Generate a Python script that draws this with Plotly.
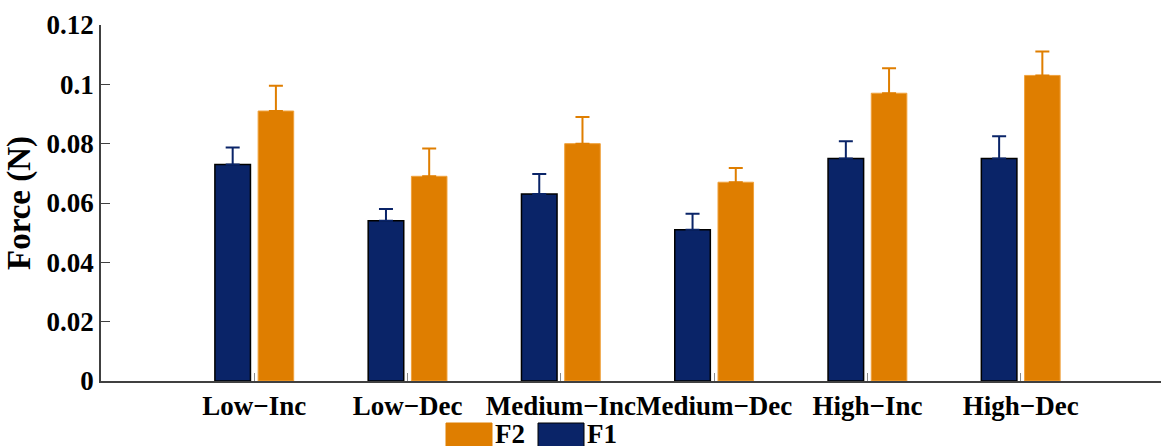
import plotly.graph_objects as go

# Conditions on the horizontal axis
conditions = ["Low\u2212Inc", "Low\u2212Dec", "Medium\u2212Inc", "Medium\u2212Dec", "High\u2212Inc", "High\u2212Dec"]

# Mean forces (N) and their error bars
f1_mean = [0.073, 0.054, 0.063, 0.051, 0.075, 0.075]
f1_err = [0.0057, 0.0040, 0.0068, 0.0054, 0.0058, 0.0075]
f2_mean = [0.091, 0.069, 0.080, 0.067, 0.097, 0.103]
f2_err = [0.0085, 0.0094, 0.0090, 0.0048, 0.0084, 0.0081]

# Y-axis ticks
y_ticks = [0, 0.02, 0.04, 0.06, 0.08, 0.1, 0.12]
y_tick_text = ["0", "0.02", "0.04", "0.06", "0.08", "0.1", "0.12"]

NAVY = "#0a2468"
ORANGE = "#df7e00"
FONT = "Liberation Serif"

fig = go.Figure()
fig.add_trace(go.Bar(
    name="F1", x=conditions, y=f1_mean,
    width=0.232, offset=-0.257,
    marker=dict(color=NAVY, line=dict(color="#000000", width=1.5)),
    error_y=dict(type="data", array=f1_err, symmetric=False, arrayminus=[0] * len(f1_err),
                 color=NAVY, thickness=2, width=7),
    showlegend=False,
))
fig.add_trace(go.Bar(
    name="F2", x=conditions, y=f2_mean,
    width=0.232, offset=0.025,
    marker=dict(color=ORANGE, line=dict(color="#f0a23c", width=1)),
    error_y=dict(type="data", array=f2_err, symmetric=False, arrayminus=[0] * len(f2_err),
                 color=ORANGE, thickness=2, width=7),
    showlegend=False,
))

# Legend drawn below the axis: F2 then F1
legend_items = [("F2", ORANGE, ORANGE), ("F1", NAVY, "#000000")]
x0 = 446
for label, fill, edge in legend_items:
    fig.add_shape(type="rect", xref="paper", yref="paper",
                  x0=(x0 - 101) / 1060, x1=(x0 + 46 - 101) / 1060,
                  y0=(381 - 423) / 356, y1=(381 - 452) / 356,
                  fillcolor=fill, line=dict(color=edge, width=1))
    fig.add_annotation(text=label, xref="paper", yref="paper",
                       x=(x0 + 48 - 101) / 1060, y=(381 - 450) / 356,
                       xanchor="left", yanchor="bottom", showarrow=False, borderpad=0,
                       font=dict(family=FONT, size=27, color="#000000", weight="bold"))
    x0 += 92

fig.update_layout(
    width=1161, height=446,
    margin=dict(l=101, r=0, t=25, b=65, autoexpand=False),
    barmode="overlay",
    plot_bgcolor="#ffffff", paper_bgcolor="#ffffff",
    font=dict(family=FONT, size=27, color="#000000", weight="bold"),
    xaxis=dict(
        range=[-1, 5.915],
        showline=True, linecolor="#404040", linewidth=2,
        ticks="inside", ticklen=8, tickcolor="#8a8a8a", tickwidth=1,
        showgrid=False, zeroline=False, tickangle=0, automargin=False,
        tickfont=dict(family=FONT, size=27, color="#000000", weight="bold"),
    ),
    yaxis=dict(
        range=[0, 0.12],
        tickvals=y_ticks, ticktext=y_tick_text,
        showline=True, linecolor="#404040", linewidth=1.5,
        ticks="inside", ticklen=9, tickcolor="#404040", tickwidth=1,
        showgrid=False, zeroline=False, automargin=False,
        tickfont=dict(family=FONT, size=27, color="#000000", weight="bold"),
        title=dict(text="Force (N)", standoff=6,
                   font=dict(family=FONT, size=33, color="#000000", weight="bold")),
    ),
)

fig.write_html("out.html")
